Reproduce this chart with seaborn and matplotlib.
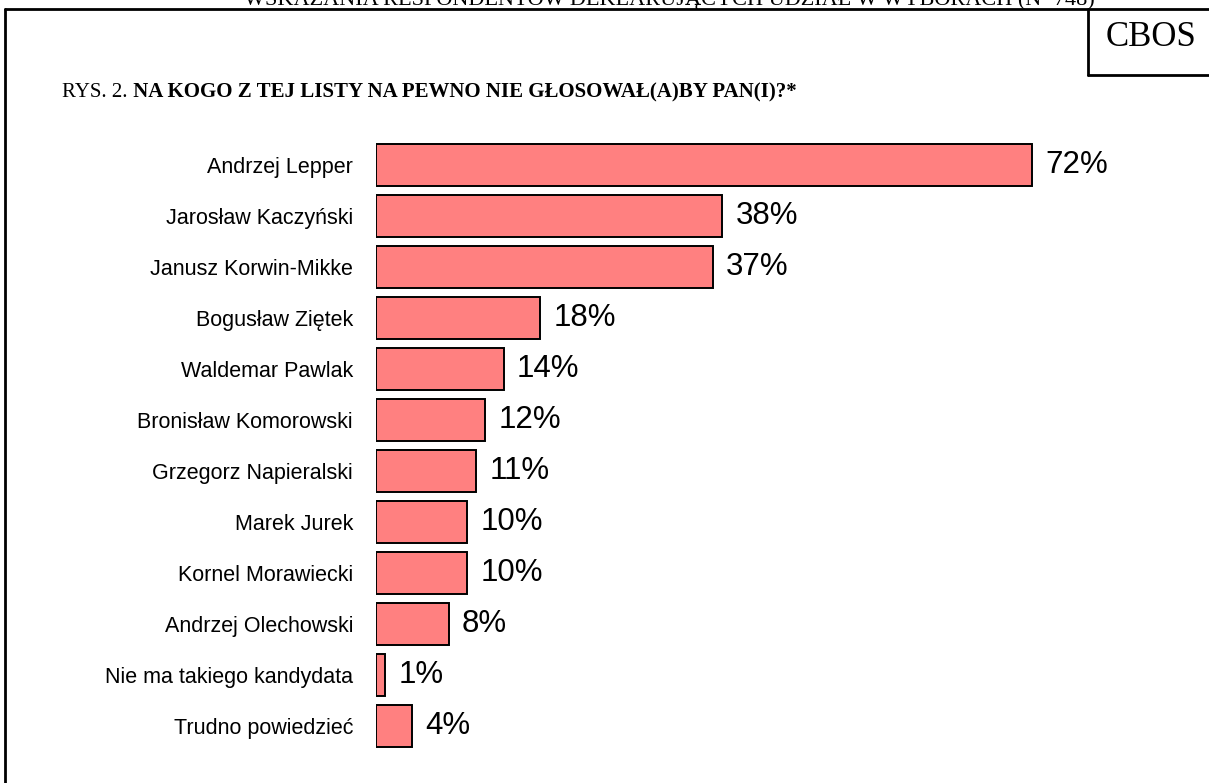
import matplotlib
matplotlib.use("Agg")
import matplotlib.pyplot as plt
import pandas as pd
import seaborn as sns
from matplotlib.lines import Line2D

sns.set_style("white")
plt.rcParams["font.family"] = ["Liberation Sans", "DejaVu Sans"]
plt.rcParams["text.color"] = "black"
plt.rcParams["ytick.color"] = "black"

# --- dane ---
kandydaci = [
    "Andrzej Lepper",
    "Jarosław Kaczyński",
    "Janusz Korwin-Mikke",
    "Bogusław Ziętek",
    "Waldemar Pawlak",
    "Bronisław Komorowski",
    "Grzegorz Napieralski",
    "Marek Jurek",
    "Kornel Morawiecki",
    "Andrzej Olechowski",
    "Nie ma takiego kandydata",
    "Trudno powiedzieć",
]
procenty = [72, 38, 37, 18, 14, 12, 11, 10, 10, 8, 1, 4]

naglowek = "WSKAZANIA RESPONDENTÓW DEKLARUJĄCYCH UDZIAŁ W WYBORACH (N=748)"
tytul_nr = "RYS. 2."
tytul = " NA KOGO Z TEJ LISTY NA PEWNO NIE GŁOSOWAŁ(A)BY PAN(I)?*"
SERIF = ["Liberation Serif", "DejaVu Serif"]

df = pd.DataFrame({"kandydat": kandydaci, "procent": procenty})

W, H = 1209, 783
fig = plt.figure(figsize=(W / 100, H / 100), dpi=100)

# osie: 0% przy x=376 px, 9.11 px na 1%, slupki co 51 px
ax = fig.add_axes([376 / W, (H - 751.5) / H, 80 * 9.11 / W, 612 / H])
sns.barplot(data=df, y="kandydat", x="procent", orient="h", color="#FF8080",
            edgecolor="black", linewidth=1.4, width=0.843, saturation=1, ax=ax)
ax.set_xlim(0, 80)
ax.set_ylim(len(kandydaci) - 0.5, -0.5)
ax.set_xlabel("")
ax.set_ylabel("")
ax.set_xticks([])
ax.tick_params(axis="y", length=0, pad=16.5, labelsize=15.5, labelcolor="black")
for s in ax.spines.values():
    s.set_visible(False)

for i, v in enumerate(procenty):
    ax.annotate(f"{v}%", xy=(v, i), xytext=(9.5, 0), textcoords="offset points",
                ha="left", va="center", fontsize=22.5, color="black")

# ramka i pole CBOS
lw = 2.0
fig.add_artist(Line2D([5 / W, 5 / W], [0, (H - 9) / H], color="black", lw=lw))
fig.add_artist(Line2D([5 / W, 1], [(H - 9) / H, (H - 9) / H], color="black", lw=lw))
fig.add_artist(Line2D([1088 / W, 1088 / W], [(H - 9) / H, (H - 75) / H], color="black", lw=lw))
fig.add_artist(Line2D([1088 / W, 1], [(H - 75) / H, (H - 75) / H], color="black", lw=lw))
fig.text(1151 / W, (H - 38) / H, "CBOS", ha="center", va="center",
         fontsize=25, family=SERIF)

# naglowek (w oryginale uciety u gory)
fig.text(669 / W, (H - 5) / H, naglowek, ha="center", va="baseline",
         fontsize=16, family=SERIF)

# tytul rysunku: numer zwykla czcionka, pytanie pogrubione
t1 = fig.text(62 / W, (H - 97) / H, tytul_nr, ha="left", va="baseline",
              fontsize=15, family=SERIF)
ax.annotate(tytul, xy=(1, 0), xycoords=t1, ha="left", va="bottom",
            fontsize=15, fontweight="bold", family=SERIF, annotation_clip=False)

fig.savefig("out.png", dpi=100)
